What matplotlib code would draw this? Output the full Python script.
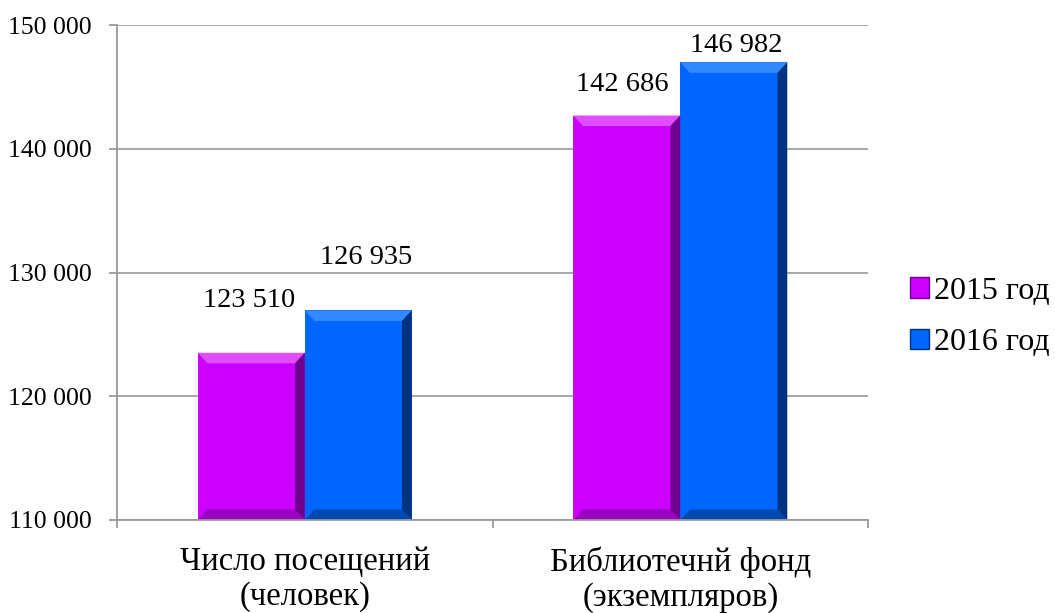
import numpy as np
import matplotlib.pyplot as plt
from matplotlib.patches import Polygon, Patch

categories = ['Число посещений\n(человек)', 'Библиотечнй фонд\n(экземпляров)']
series_names = ['2015 год', '2016 год']
values_2015 = [123510, 142686]
values_2016 = [126935, 146982]
yticks = [110000, 120000, 130000, 140000, 150000]

# label offsets from bar top centre (points), as placed in the original chart
label_dx = [[-1.5, -3], [6, 1.5]]
label_dy = [[38, 22], [38, 12]]

colors = ['#CC00FF', '#0066FF']
light = ['#E04DFF', '#338AFF']
dark = ['#6E0090', '#00337F']
mid_dark = ['#9A00C0', '#0048B0']

plt.rcParams['font.family'] = ['Liberation Serif', 'DejaVu Serif']

fig = plt.figure(figsize=(10.55, 6.13), dpi=100)
ax = fig.add_axes([117 / 1055, 1 - 520 / 613, 751 / 1055, 495 / 613])

x = np.arange(len(categories))
w = 0.285
ymin, ymax = 110000, 150000
bx = 0.026      # bevel width, category units
by = 850        # bevel height, data units


def bevel_bar(xc, top, i):
    x0, x1 = xc - w / 2, xc + w / 2
    ax.bar(xc, top - ymin, w, bottom=ymin, color=colors[i], zorder=3)
    y0 = ymin
    ax.add_patch(Polygon([(x0, top), (x1, top), (x1 - bx, top - by), (x0 + bx, top - by)],
                         closed=True, color=light[i], lw=0, zorder=4))
    ax.add_patch(Polygon([(x1, top), (x1, y0), (x1 - bx, y0 + by), (x1 - bx, top - by)],
                         closed=True, color=dark[i], lw=0, zorder=4))
    ax.add_patch(Polygon([(x0, y0), (x1, y0), (x1 - bx, y0 + by), (x0 + bx, y0 + by)],
                         closed=True, color=mid_dark[i], lw=0, zorder=4))


vals = [values_2015, values_2016]
for i in range(2):
    for j in range(len(categories)):
        v = vals[i][j]
        xc = x[j] + (i - 0.5) * w
        bevel_bar(xc, v, i)
        label = f'{v:,}'.replace(',', ' ')
        ax.annotate(label, (xc, v), xytext=(label_dx[i][j], label_dy[i][j]),
                    textcoords='offset points', ha='center', va='center', fontsize=20.5)

ax.set_xlim(-0.5, 1.5)
ax.set_ylim(ymin, ymax)
ax.set_yticks(yticks)
ax.set_yticklabels([f'{t:,}'.replace(',', ' ') for t in yticks], fontsize=18.5)
ax.set_xticks([-0.5, 0.5, 1.5])
ax.set_xticklabels([])
ax.set_xticks(x, minor=True)
ax.set_xticklabels(categories, minor=True, fontsize=23.5, linespacing=1.2)
ax.tick_params(axis='x', which='minor', length=0, pad=19)
ax.tick_params(axis='x', which='major', length=6, color='#999999', width=1.3)
ax.tick_params(axis='y', length=6, color='#999999', width=1.3, pad=12)

ax.yaxis.grid(True, color='#A0A0A0', lw=1.3, zorder=0)
for s in ['top', 'right']:
    ax.spines[s].set_visible(False)
for s in ['left', 'bottom']:
    ax.spines[s].set_color('#999999')
    ax.spines[s].set_linewidth(1.3)
ax.spines['bottom'].set_zorder(5)

handles = [Patch(facecolor=colors[i], edgecolor=dark[i], lw=1) for i in range(2)]
fig.legend(handles, series_names, loc='center left', bbox_to_anchor=(910 / 1055, 1 - 317 / 613),
           frameon=False, fontsize=23, handlelength=0.6, handleheight=0.6,
           handletextpad=0.15, labelspacing=0.7, borderaxespad=0, borderpad=0)

fig.savefig('out.png', dpi=100)
